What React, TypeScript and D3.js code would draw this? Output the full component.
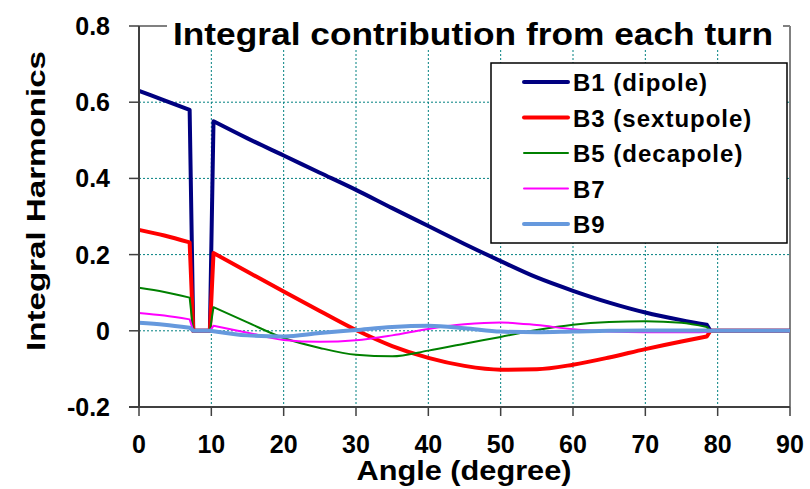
import * as d3 from "d3";

// shared angle grid (degrees) for every series
const angles = [0, 3.5, 7, 7.5, 9.8, 10.3, 15, 20, 25, 30, 35, 40, 45, 50, 55, 60, 65, 70, 75, 78.5, 79, 90];

const b1 = [0.63, 0.605, 0.58, 0, 0, 0.55, 0.505, 0.46, 0.415, 0.37, 0.322, 0.275, 0.228, 0.183, 0.14, 0.105, 0.074, 0.048, 0.028, 0.016, 0, 0];
const b3 = [0.265, 0.25, 0.232, 0, 0, 0.204, 0.155, 0.103, 0.052, 0.002, -0.04, -0.071, -0.092, -0.102, -0.101, -0.089, -0.07, -0.048, -0.028, -0.015, 0, 0];
const b5 = [0.113, 0.102, 0.087, 0, 0, 0.062, 0.022, -0.019, -0.045, -0.063, -0.067, -0.052, -0.034, -0.016, 0.002, 0.016, 0.023, 0.025, 0.021, 0.01, 0, 0];
const b7 = [0.047, 0.04, 0.03, 0, 0, 0.013, -0.005, -0.024, -0.029, -0.025, -0.012, 0.005, 0.017, 0.022, 0.015, 0.004, -0.002, -0.004, -0.004, -0.003, 0, 0];
const b9 = [0.021, 0.016, 0.008, 0, 0, -0.001, -0.012, -0.015, -0.006, 0.002, 0.01, 0.013, 0.007, -0.002, -0.004, -0.002, 0, 0.001, 0.001, 0.001, 0, 0];

const seriesNames = ["B1 (dipole)", "B3 (sextupole)", "B5 (decapole)", "B7", "B9"];
const seriesValues = [b1, b3, b5, b7, b9];
const seriesColors = ["#000080", "#ff0000", "#008000", "#ff00ff", "#6699dd"];
const seriesWidths = [4, 4, 2, 2, 4];

// index ranges drawn smooth; the steps between them are straight
const smoothPieces = [[0, 2], [5, 19]];

const xTicks = [0, 10, 20, 30, 40, 50, 60, 70, 80, 90];
const yTicks = [-0.2, 0, 0.2, 0.4, 0.6, 0.8];

const W = 810;
const H = 489;
const left = 139, right = 790, top = 26, bottom = 407;
const font = "'Liberation Sans', Arial, sans-serif";

export default function App() {
  const x = d3.scaleLinear().domain([0, 90]).range([left, right]);
  const y = d3.scaleLinear().domain([-0.2, 0.8]).range([bottom, top]);
  const smooth = d3.line<[number, number]>().x((d) => x(d[0])).y((d) => y(d[1])).curve(d3.curveMonotoneX);

  const pathFor = (vals: number[]) => {
    const pts: [number, number][] = vals.map((v, i) => [angles[i], v]);
    let d = "";
    let last = -1;
    smoothPieces.forEach(([a, b]) => {
      for (let i = last + 1; i < a; i++) d += (d ? "L" : "M") + x(pts[i][0]) + "," + y(pts[i][1]);
      const piece = smooth(pts.slice(a, b + 1)) || "";
      d += d ? "L" + piece.slice(1) : piece;
      last = b;
    });
    for (let i = last + 1; i < pts.length; i++) d += "L" + x(pts[i][0]) + "," + y(pts[i][1]);
    return d;
  };

  const gridColor = "#008080";

  return (
    <svg width={W} height={H} style={{ position: "absolute", left: 0, top: 0, background: "#fff" }} fontFamily={font}>
      <rect width={W} height={H} fill="#fff" />
      {/* grid */}
      {xTicks.filter((t) => t > 0 && t < 90).map((t) => (
        <line key={"gx" + t} x1={x(t)} x2={x(t)} y1={top} y2={bottom} stroke={gridColor} strokeWidth={1} strokeDasharray="2,2" />
      ))}
      {yTicks.filter((t) => t > -0.2 && t < 0.8).map((t) => (
        <line key={"gy" + t} x1={left} x2={right} y1={y(t)} y2={y(t)} stroke={gridColor} strokeWidth={1} strokeDasharray="2,2" />
      ))}
      {/* frame */}
      <line x1={left} x2={right} y1={top} y2={top} stroke="#808080" strokeWidth={2} />
      <line x1={right} x2={right} y1={top} y2={bottom} stroke="#808080" strokeWidth={2} />
      {/* series */}
      {seriesValues.map((vals, i) => (
        <path key={seriesNames[i]} d={pathFor(vals)} fill="none" stroke={seriesColors[i]} strokeWidth={seriesWidths[i]} strokeLinejoin="round" />
      ))}
      {/* axes */}
      <line x1={left} x2={left} y1={top} y2={bottom} stroke="#404040" strokeWidth={2} />
      <line x1={left - 10} x2={right} y1={bottom} y2={bottom} stroke="#404040" strokeWidth={2} />
      {yTicks.map((t) => (
        <g key={"yt" + t}>
          <line x1={left - 10} x2={left} y1={y(t)} y2={y(t)} stroke="#404040" strokeWidth={1.5} />
          <text x={110} y={y(t) + 9} textAnchor="end" fontSize={25} fontWeight="bold">
            {t === 0 ? "0" : t.toFixed(1)}
          </text>
        </g>
      ))}
      {xTicks.map((t) => (
        <g key={"xt" + t}>
          <line x1={x(t)} x2={x(t)} y1={bottom} y2={bottom + 9} stroke="#404040" strokeWidth={1.5} />
          <text x={x(t)} y={453} textAnchor="middle" fontSize={25} fontWeight="bold">
            {t}
          </text>
        </g>
      ))}
      {/* title */}
      <rect x={167} y={6} width={616} height={43} fill="#fff" />
      <text x={173} y={45} fontSize={32} fontWeight="bold" textLength={600} lengthAdjust="spacingAndGlyphs">
        Integral contribution from each turn
      </text>
      {/* axis titles */}
      <text x={464} y={480} textAnchor="middle" fontSize={27} fontWeight="bold" textLength={215} lengthAdjust="spacingAndGlyphs">
        Angle (degree)
      </text>
      <text transform="translate(45,201) rotate(-90)" textAnchor="middle" fontSize={25} fontWeight="bold" textLength={300} lengthAdjust="spacingAndGlyphs">
        Integral Harmonics
      </text>
      {/* legend */}
      <rect x={491} y={63} width={296} height={180} fill="#fff" stroke="#000" strokeWidth={1.5} />
      {seriesNames.map((name, i) => {
        const cy = 82 + i * 35.5;
        return (
          <g key={"lg" + i}>
            <line x1={524} x2={568} y1={cy} y2={cy} stroke={seriesColors[i]} strokeWidth={seriesWidths[i]} strokeLinecap="round" />
            <text x={573} y={cy + 9} fontSize={24} fontWeight="bold" letterSpacing={1}>
              {name}
            </text>
          </g>
        );
      })}
    </svg>
  );
}
